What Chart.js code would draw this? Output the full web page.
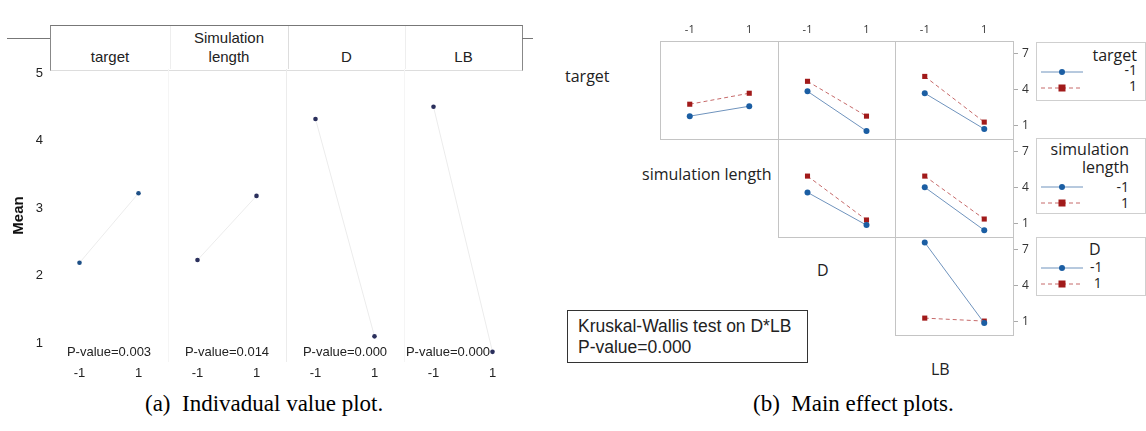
<!DOCTYPE html>
<html lang="en">
<head>
<meta charset="UTF-8">
<title>Individual value plot and main effect plots</title>
<script src="https://cdn.jsdelivr.net/npm/chart.js"></script>
<style>
  body { margin: 0; background: #fff; }
  #page { position: relative; width: 1146px; height: 431px; overflow: hidden; font-family: "Liberation Sans", Arial, sans-serif; }
  #page canvas, #page .abs { position: absolute; }
  .hdr { font-size: 15px; color: #222; text-align: center; line-height: 19px; }
  .lbl { font-family: "Open Sans", "Noto Sans", sans-serif; font-size: 16px; color: #222; line-height: 20px; }
  .cap { font-family: "Liberation Serif", "Times New Roman", serif; font-size: 23px; color: #000; line-height: 26px; white-space: nowrap; }
  .lgd { border: 1px solid #cfcfcf; font-family: "Open Sans", "Noto Sans", sans-serif; color: #222; }
  .kw { border: 1.5px solid #333; font-size: 17.5px; line-height: 21px; padding: 5px 10px; box-sizing: border-box; color: #222; }
</style>
</head>
<body>
<div id="page">
  <!-- header frame of the individual value plot -->
  <div class="abs" style="left:7px;top:38px;width:43px;border-top:1px solid #777;"></div>
  <div class="abs" style="left:50px;top:25px;width:471px;height:44px;border:1px solid #888;border-bottom:1px solid #ddd;border-top-color:#777;"></div>
  <div class="abs" style="left:522px;top:38px;width:11px;border-top:1px solid #777;"></div>
  <div class="abs" style="left:170px;top:26px;height:43px;border-left:1px solid #eee;"></div>
  <div class="abs" style="left:288px;top:26px;height:43px;border-left:1px solid #ddd;"></div>
  <div class="abs" style="left:405px;top:26px;height:43px;border-left:1px solid #eee;"></div>
  <div class="abs hdr" style="left:50px;top:47px;width:120px;">target</div>
  <div class="abs hdr" style="left:170px;top:28px;width:118px;">Simulation<br>length</div>
  <div class="abs hdr" style="left:288px;top:47px;width:117px;">D</div>
  <div class="abs hdr" style="left:405px;top:47px;width:117px;">LB</div>

  <canvas id="ivChart" width="540" height="390" style="left:0;top:0;"></canvas>

  <!-- diagonal labels of the main effect matrix -->
  <div class="abs lbl" style="left:565px;top:66px;">target</div>
  <div class="abs lbl" style="left:642px;top:164px;">simulation length</div>
  <div class="abs lbl" style="left:817px;top:260px;">D</div>
  <div class="abs lbl" style="left:931px;top:359px;">LB</div>

  <!-- legends -->
  <div class="abs lgd" style="left:1036px;top:42px;width:108px;height:57px;">
    <div style="position:absolute;right:8px;top:1px;font-size:16px;">target</div>
    <svg style="position:absolute;left:4px;top:23px;" width="44" height="30">
      <line x1="0" y1="6" x2="42" y2="6" stroke="#6f93bd" stroke-width="1"/>
      <circle cx="21" cy="6" r="3" fill="#1b5ea3"/>
      <line x1="0" y1="22" x2="42" y2="22" stroke="#c66a6a" stroke-width="1" stroke-dasharray="4,3"/>
      <rect x="17.5" y="18.5" width="7" height="7" fill="#a11a1a"/>
    </svg>
    <div style="position:absolute;right:8px;top:19px;font-size:14px;line-height:16px;text-align:right;">-1<br>1</div>
  </div>
  <div class="abs lgd" style="left:1036px;top:138px;width:108px;height:74px;">
    <div style="position:absolute;right:16px;top:1px;font-size:16px;line-height:18px;text-align:right;">simulation<br>length</div>
    <svg style="position:absolute;left:4px;top:42px;" width="44" height="30">
      <line x1="0" y1="6" x2="42" y2="6" stroke="#6f93bd" stroke-width="1"/>
      <circle cx="21" cy="6" r="3" fill="#1b5ea3"/>
      <line x1="0" y1="22" x2="42" y2="22" stroke="#c66a6a" stroke-width="1" stroke-dasharray="4,3"/>
      <rect x="17.5" y="18.5" width="7" height="7" fill="#a11a1a"/>
    </svg>
    <div style="position:absolute;right:16px;top:40px;font-size:14px;line-height:16px;text-align:right;">-1<br>1</div>
  </div>
  <div class="abs lgd" style="left:1036px;top:237px;width:108px;height:57px;">
    <div style="position:absolute;left:52px;top:0px;font-size:16px;">D</div>
    <svg style="position:absolute;left:4px;top:24px;" width="44" height="30">
      <line x1="0" y1="6" x2="42" y2="6" stroke="#6f93bd" stroke-width="1"/>
      <circle cx="21" cy="6" r="3" fill="#1b5ea3"/>
      <line x1="0" y1="22" x2="42" y2="22" stroke="#c66a6a" stroke-width="1" stroke-dasharray="4,3"/>
      <rect x="17.5" y="18.5" width="7" height="7" fill="#a11a1a"/>
    </svg>
    <div style="position:absolute;left:53px;top:21px;font-size:14px;line-height:16px;">-1<br>&nbsp;1</div>
  </div>

  <div class="abs kw" style="left:567px;top:310px;width:241px;height:53px;">Kruskal-Wallis test on D*LB<br>P-value=0.000</div>

  <div class="abs cap" style="left:145px;top:391px;">(a)&nbsp; Indivadual value plot.</div>
  <div class="abs cap" style="left:753px;top:391px;">(b)&nbsp; Main effect plots.</div>
</div>

<script>
// ---- (a) individual value plot ----
var ivFactors = ['target', 'Simulation length', 'D', 'LB'];
var levels = ['-1', '1'];
var targetMeans = [2.19, 3.22];
var simMeans = [2.23, 3.18];
var dMeans = [4.32, 1.10];
var lbMeans = [4.50, 0.87];
var pValues = ['0.003', '0.014', '0.000', '0.000'];
var meanTicks = [1, 2, 3, 4, 5];

// ---- (b) main effect (interaction) plots, [at -1, at 1] ----
var tgtSimLo = [1.75, 2.58], tgtSimHi = [2.75, 3.67];
var tgtDLo = [3.83, 0.50], tgtDHi = [4.67, 1.75];
var tgtLBLo = [3.67, 0.67], tgtLBHi = [5.08, 1.25];
var simDLo = [3.57, 0.83], simDHi = [4.94, 1.26];
var simLBLo = [4.00, 0.40], simLBHi = [4.94, 1.34];
var dLBLo = [7.59, 0.83], dLBHi = [1.25, 1.00];
var effectTicks = [1, 4, 7];

Chart.defaults.animation = false;
Chart.defaults.font.family = '"Liberation Sans", Arial, sans-serif';

// fixed axis box sizes, no label overflow padding
function fixBox(w, h) {
    return function (s) {
        if (w !== null) s.width = w;
        if (h !== null) s.height = h;
        s.paddingTop = 0; s.paddingBottom = 0; s.paddingLeft = 0; s.paddingRight = 0;
    };
}

// build the 8-slot table for the left chart
var ivLabels = [];
ivFactors.forEach(function () { ivLabels.push(levels[0], levels[1]); });
var allMeans = [targetMeans, simMeans, dMeans, lbMeans];
var ivDatasets = allMeans.map(function (m, i) {
    var d = ivLabels.map(function () { return null; });
    d[2 * i] = m[0];
    d[2 * i + 1] = m[1];
    return {
        data: d,
        borderColor: 'rgba(0,0,0,0.08)',
        borderWidth: 1,
        pointRadius: 2.3,
        pointBorderWidth: 0,
        pointBackgroundColor: i == 0 ? '#1d4f86' : '#2a2f5c',
        spanGaps: false
    };
});

var ivExtras = {
    id: 'ivExtras',
    beforeDatasetsDraw: function (chart) {
        var ctx = chart.ctx, a = chart.chartArea, x = chart.scales.x;
        ctx.save();
        ctx.lineWidth = 1;
        for (var i = 1; i < 4; i++) {
            ctx.strokeStyle = i == 2 ? '#ececec' : '#f5f5f5';
            var px = Math.round((x.getPixelForValue(2 * i - 1) + x.getPixelForValue(2 * i)) / 2) + 0.5;
            ctx.beginPath(); ctx.moveTo(px, a.top); ctx.lineTo(px, a.bottom); ctx.stroke();
        }
        ctx.restore();
    },
    afterDatasetsDraw: function (chart) {
        var ctx = chart.ctx, a = chart.chartArea, x = chart.scales.x;
        ctx.save();
        ctx.font = '13px "Liberation Sans", Arial, sans-serif';
        ctx.fillStyle = '#222';
        ctx.textAlign = 'center';
        ctx.textBaseline = 'middle';
        pValues.forEach(function (p, i) {
            var cx = (x.getPixelForValue(2 * i) + x.getPixelForValue(2 * i + 1)) / 2;
            if (i == 3) cx -= 15;
            ctx.fillText('P-value=' + p, cx, a.bottom - 10);
        });
        ctx.restore();
    }
};

new Chart(document.getElementById('ivChart'), {
    type: 'line',
    data: { labels: ivLabels, datasets: ivDatasets },
    options: {
        responsive: false,
        layout: { padding: { left: 0, top: 69, right: 18, bottom: 0 }, autoPadding: false },
        plugins: { legend: { display: false }, tooltip: { enabled: false } },
        scales: {
            x: {
                offset: true,
                grid: { display: false, drawTicks: false },
                border: { display: false },
                ticks: { color: '#222', font: { size: 13 }, padding: 4, maxRotation: 0, autoSkip: false },
                afterFit: fixBox(null, 28)
            },
            y: {
                min: 0.72, max: 5.06,
                grid: { display: false, drawTicks: false },
                border: { display: false },
                ticks: { color: '#222', font: { size: 13 }, padding: 7 },
                afterBuildTicks: function (s) { s.ticks = meanTicks.map(function (v) { return { value: v }; }); },
                title: { display: true, text: 'Mean', color: '#111', font: { size: 15, weight: 'bold' }, padding: { top: 10, bottom: 0 } },
                afterFit: fixBox(50, null)
            }
        }
    },
    plugins: [ivExtras]
});

// ---- matrix of interaction panels ----
var colX = [660, 778, 895];
var colW = [118, 117, 118];
var rowY = [41, 139, 237];
var panelH = 98;
var topAxisH = 20, rightAxisW = 30;

var panels = [
    { row: 0, col: 0, lo: tgtSimLo, hi: tgtSimHi },
    { row: 0, col: 1, lo: tgtDLo, hi: tgtDHi },
    { row: 0, col: 2, lo: tgtLBLo, hi: tgtLBHi },
    { row: 1, col: 1, lo: simDLo, hi: simDHi },
    { row: 1, col: 2, lo: simLBLo, hi: simLBHi },
    { row: 2, col: 2, lo: dLBLo, hi: dLBHi }
];

var frame = {
    id: 'frame',
    beforeDatasetsDraw: function (chart) {
        var a = chart.chartArea, ctx = chart.ctx;
        ctx.save();
        ctx.strokeStyle = '#c4c4c4';
        ctx.lineWidth = 1;
        ctx.strokeRect(a.left + 0.5, a.top + 0.5, a.right - a.left - 1, a.bottom - a.top - 1);
        ctx.restore();
    }
};

var page = document.getElementById('page');
panels.forEach(function (p) {
    var showTop = p.row == 0, showRight = p.col == 2;
    var c = document.createElement('canvas');
    var w = colW[p.col] + 1 + (showRight ? rightAxisW : 0);
    var h = panelH + 1 + (showTop ? topAxisH : 0);
    c.width = w; c.height = h;
    c.style.left = colX[p.col] + 'px';
    c.style.top = (rowY[p.row] - (showTop ? topAxisH : 0)) + 'px';
    page.appendChild(c);
    new Chart(c, {
        type: 'line',
        data: {
            labels: levels,
            datasets: [
                { data: p.lo, borderColor: '#6f93bd', borderWidth: 1, pointStyle: 'circle', pointRadius: 3,
                  pointBorderWidth: 0, pointBackgroundColor: '#1b5ea3' },
                { data: p.hi, borderColor: '#c66a6a', borderWidth: 1, borderDash: [4, 3], pointStyle: 'rect',
                  pointRadius: 3.6, pointBorderWidth: 0, pointBackgroundColor: '#a11a1a' }
            ]
        },
        options: {
            responsive: false,
            layout: { padding: 0, autoPadding: false },
            plugins: { legend: { display: false }, tooltip: { enabled: false } },
            scales: {
                x: {
                    position: 'top', offset: true, display: showTop,
                    grid: { display: false, drawTicks: false },
                    border: { display: false },
                    ticks: { color: '#333', font: { size: 11, family: '"Open Sans", sans-serif' }, padding: 5, maxRotation: 0 },
                    afterFit: fixBox(null, showTop ? topAxisH : 0)
                },
                y: {
                    position: 'right', min: -0.25, max: 8.05, display: showRight,
                    grid: { display: true, drawOnChartArea: false, drawTicks: true, tickLength: 4, color: '#aaa' },
                    border: { display: false },
                    ticks: { color: '#333', font: { size: 12, family: '"Open Sans", sans-serif' }, padding: 4 },
                    afterBuildTicks: function (s) { s.ticks = effectTicks.map(function (v) { return { value: v }; }); },
                    afterFit: fixBox(showRight ? rightAxisW : 0, null)
                }
            }
        },
        plugins: [frame]
    });
});
</script>
</body>
</html>
